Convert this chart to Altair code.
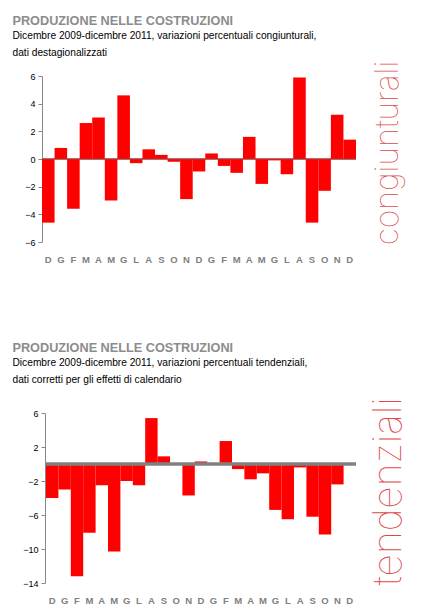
import altair as alt
import pandas as pd

months = ["D", "G", "F", "M", "A", "M", "G", "L", "A", "S", "O", "N",
          "D", "G", "F", "M", "A", "M", "G", "L", "A", "S", "O", "N", "D"]
cong = [-4.6, 0.8, -3.6, 2.6, 3.0, -3.0, 4.6, -0.3, 0.7, 0.3, -0.2, -2.9,
        -0.9, 0.4, -0.5, -1.0, 1.6, -1.8, -0.1, -1.1, 5.9, -4.6, -2.3, 3.2, 1.4]
tend = [-4.0, -3.0, -13.2, -8.1, -2.5, -10.3, -2.0, -2.5, 5.4, 0.9, 0.0, -3.7,
        0.3, 0.0, 2.7, -0.6, -1.8, -1.1, -5.4, -6.5, -0.4, -6.2, -8.3, -2.4, 0.0]

title_text = "PRODUZIONE NELLE COSTRUZIONI"
sub_top = ["Dicembre 2009-dicembre 2011, variazioni percentuali congiunturali,",
           "dati destagionalizzati"]
sub_bot = ["Dicembre 2009-dicembre 2011, variazioni percentuali tendenziali,",
           "dati corretti per gli effetti di calendario"]
side_top = "congiunturali"
side_bot = "tendenziali"
top_ticks = [-6, -4, -2, 0, 2, 4, 6]
bot_ticks = [6, 2, -2, -6, -10, -14]

idx = list(range(len(months)))
df_top = pd.DataFrame({"i": idx, "v": cong})
df_bot = pd.DataFrame({"i": idx, "v": tend})

label_expr = "[" + ",".join(f"'{m}'" for m in months) + "][datum.value]"
FONT = "Liberation Sans, Arial"
W = 314


def panel(df, ticks, domain, side, sub, height, x0, yoff, zcolor, zwidth,
          tx, ty, tsize, toff):
    xs = alt.Scale(paddingInner=0, paddingOuter=0, range=[x0, W])
    x = alt.X("i:O", scale=xs,
              axis=alt.Axis(labelExpr=label_expr, title=None, domain=False, ticks=False,
                            labelAngle=0, labelFontWeight="bold", labelColor="#808080",
                            labelFontSize=9.5, labelFont="Liberation Sans", labelPadding=12))
    yaxis = alt.Axis(values=ticks, title=None, grid=False, domainColor="#888888",
                     tickColor="#888888", tickSize=4, labelColor="#000000",
                     labelFontSize=9, labelFont="Liberation Sans", labelPadding=3,
                     labelOverlap=False, labelSeparation=0, offset=yoff)
    yscale = alt.Scale(domain=domain, nice=False, zero=False)
    bars = alt.Chart(df).mark_bar(color="#ff0000").encode(
        x=x, y=alt.Y("v:Q", scale=yscale, axis=yaxis))
    zero = alt.Chart(pd.DataFrame({"v": [0]})).mark_rule(
        color=zcolor, strokeWidth=zwidth).encode(
        y=alt.Y("v:Q", scale=yscale, axis=yaxis), x=alt.value(x0), x2=alt.value(W))
    txt = alt.Chart(pd.DataFrame({"t": [side]})).mark_text(
        angle=270, font="Inter", fontWeight=100, fontSize=tsize, color="#e04848",
        align="center", baseline="middle").encode(
        text="t:N", x=alt.value(tx), y=alt.value(ty))
    return alt.layer(bars, zero, txt).properties(
        width=W, height=height,
        title=alt.TitleParams(text=title_text, subtitle=sub, anchor="start",
                              frame="group", dx=-29.5,
                              font=FONT, fontSize=12.7, fontWeight="bold", color="#8c8c8c",
                              subtitleFont=FONT, subtitleFontSize=10.2,
                              subtitleColor="#000000", subtitlePadding=4,
                              subtitleLineHeight=17, offset=toff))


top = panel(df_top, top_ticks, [-6, 6], side_top, sub_top, 166, 0, 0,
            "#b03030", 1.5, 346, 77, 32, 2)
bot = panel(df_bot, bot_ticks, [-14, 6], side_bot, sub_bot, 170, 4, -3,
            "#808080", 3.5, 346.5, 78.5, 39, 12)

chart = alt.vconcat(top, bot, spacing=77).configure_view(stroke=None).configure_axis(
    labelOverlap=False).properties(
    padding={"left": 4, "top": 6, "right": 10, "bottom": 0})

chart.save("out.html", embed_options={"renderer": "svg", "actions": False})
